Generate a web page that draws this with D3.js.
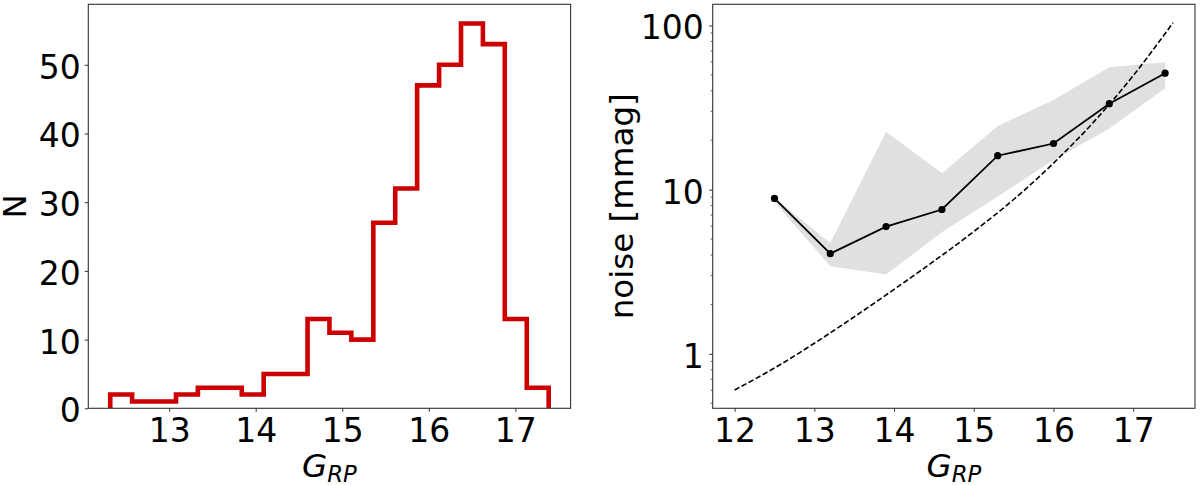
<!DOCTYPE html>
<html><head><meta charset="utf-8">
<script src="https://cdn.jsdelivr.net/npm/d3@7/dist/d3.min.js"></script>
<style>
body{margin:0;background:#fff}
svg{display:block;background:#fff}
text{font-family:"DejaVu Sans",sans-serif;fill:#000}
</style>
</head><body>
<svg id="chart" width="1200" height="485"></svg>
<script>
// ---------- data ----------
const histEdges = [12.319, 12.572, 12.826, 13.079, 13.332, 13.586, 13.839, 14.092, 14.345, 14.599,
                   14.852, 15.105, 15.359, 15.612, 15.865, 16.119, 16.372, 16.625, 16.878, 17.132, 17.385];
const histCounts = [2, 1, 1, 2, 3, 3, 2, 5, 5, 13, 11, 10, 27, 32, 47, 50, 56, 53, 13, 3];
const histXTicks = [13, 14, 15, 16, 17];
const histYTicks = [0, 10, 20, 30, 40, 50];

const noiseMag    = [12.5, 13.2, 13.9, 14.6, 15.3, 16.0, 16.7, 17.4];
const noiseMedian = [8.84, 4.08, 5.96, 7.57, 16.1, 19.1, 33.4, 51.2];
const noiseLow    = [8.4, 3.42, 3.04, 5.5, 9.1, 15.1, 23.6, 41.5];
const noiseHigh   = [8.9, 4.73, 22.5, 12.6, 24.4, 35.2, 55.7, 59.8];

const modelMag   = [12.0, 12.5, 13.0, 13.5, 14.0, 14.5, 15.0, 15.5, 16.0, 16.5, 17.0, 17.5];
const modelNoise = [0.603, 0.82, 1.16, 1.68, 2.47, 3.67, 5.56, 8.71, 14.5, 25.7, 49.5, 104];

const noiseXTicks = [12, 13, 14, 15, 16, 17];
const noiseYTicks = [1, 10, 100];

// ---------- layout ----------
const svg = d3.select("#chart");
const yTop = 4.3, yBot = 408.3;
const L = {x0: 88.3, x1: 570.6};
const R = {x0: 712.7, x1: 1195};
const FS = 33;      // tick label size
const LFS = 32.5;   // axis label size
const spineColor = "#333";

function pad(lo, hi, f) { const d = (hi - lo) * f; return [lo - d, hi + d]; }

// ---------- left panel: histogram ----------
const hx = d3.scaleLinear().domain(pad(histEdges[0], histEdges[histEdges.length - 1], 0.05)).range([L.x0, L.x1]);
const hy = d3.scaleLinear().domain([0, d3.max(histCounts) * 1.05]).range([yBot, yTop]);

svg.append("clipPath").attr("id", "clipL").append("rect")
  .attr("x", L.x0).attr("y", yTop).attr("width", L.x1 - L.x0).attr("height", yBot - yTop);

const stepPts = [[histEdges[0], 0]];
histCounts.forEach((c, i) => { stepPts.push([histEdges[i], c]); stepPts.push([histEdges[i + 1], c]); });
stepPts.push([histEdges[histEdges.length - 1], 0]);

svg.append("path")
  .attr("clip-path", "url(#clipL)")
  .attr("d", d3.line().x(d => hx(d[0])).y(d => hy(d[1]))(stepPts))
  .attr("fill", "none").attr("stroke", "#cc0000").attr("stroke-width", 4.6)
  .attr("stroke-linejoin", "miter");

function frame(x0, x1) {
  svg.append("rect").attr("x", x0).attr("y", yTop).attr("width", x1 - x0).attr("height", yBot - yTop)
    .attr("fill", "none").attr("stroke", spineColor).attr("stroke-width", 1.1);
}
frame(L.x0, L.x1);

function xAxis(scale, ticks, fmt) {
  const g = svg.append("g").attr("transform", `translate(0,${yBot})`)
    .call(d3.axisBottom(scale).tickValues(ticks).tickSize(3.5).tickPadding(3).tickFormat(fmt));
  g.select(".domain").remove();
  g.selectAll(".tick line").attr("stroke", spineColor).attr("stroke-width", 1);
  g.selectAll(".tick text").attr("font-size", FS).attr("font-family", "DejaVu Sans")
    .attr("dy", null).attr("y", 34);
}
function yAxis(x0, scale, ticks, fmt, gap) {
  const g = svg.append("g").attr("transform", `translate(${x0},0)`)
    .call(d3.axisLeft(scale).tickValues(ticks).tickSize(3.5).tickPadding(3).tickFormat(fmt));
  g.select(".domain").remove();
  g.selectAll(".tick line").attr("stroke", spineColor).attr("stroke-width", 1);
  g.selectAll(".tick text").attr("font-size", FS).attr("font-family", "DejaVu Sans")
    .attr("x", -gap).attr("dy", null).attr("y", 13.5);
  return g;
}
xAxis(hx, histXTicks, d3.format("d"));
yAxis(L.x0, hy, histYTicks, d3.format("d"), 7.5);

function grpLabel(cx) {
  const t = svg.append("text").attr("x", cx).attr("y", 477).attr("text-anchor", "middle")
    .attr("font-size", LFS).attr("font-style", "italic");
  t.append("tspan").text("G");
  t.append("tspan").attr("font-size", LFS * 0.7).attr("dy", 5).text("RP");
}
grpLabel((L.x0 + L.x1) / 2);

svg.append("text").attr("transform", `translate(25.5,${(yTop + yBot) / 2}) rotate(-90)`)
  .attr("text-anchor", "middle").attr("font-size", LFS).text("N");

// ---------- right panel: noise ----------
const nx = d3.scaleLinear().domain(pad(modelMag[0], modelMag[modelMag.length - 1], 0.05)).range([R.x0, R.x1]);
const allVals = modelNoise.concat(noiseLow, noiseHigh, noiseMedian);
const lmin = Math.log10(d3.min(allVals)), lmax = Math.log10(d3.max(allVals));
const lpad = pad(lmin, lmax, 0.05);
const ny = d3.scaleLog().domain([Math.pow(10, lpad[0]), Math.pow(10, lpad[1])]).range([yBot, yTop]);

svg.append("clipPath").attr("id", "clipR").append("rect")
  .attr("x", R.x0).attr("y", yTop).attr("width", R.x1 - R.x0).attr("height", yBot - yTop);
const gR = svg.append("g").attr("clip-path", "url(#clipR)");

const bandData = noiseMag.map((m, i) => ({m, lo: noiseLow[i], hi: noiseHigh[i]}));
gR.append("path")
  .attr("d", d3.area().x(d => nx(d.m)).y0(d => ny(d.lo)).y1(d => ny(d.hi))(bandData))
  .attr("fill", "#e0e0e0").attr("stroke", "none");

const modelData = modelMag.map((m, i) => ({m, v: modelNoise[i]}));
gR.append("path")
  .attr("d", d3.line().x(d => nx(d.m)).y(d => ny(d.v)).curve(d3.curveMonotoneX)(modelData))
  .attr("fill", "none").attr("stroke", "#000").attr("stroke-width", 1.6)
  .attr("stroke-dasharray", "5.5,2.5");

const medData = noiseMag.map((m, i) => ({m, v: noiseMedian[i]}));
gR.append("path")
  .attr("d", d3.line().x(d => nx(d.m)).y(d => ny(d.v))(medData))
  .attr("fill", "none").attr("stroke", "#000").attr("stroke-width", 1.8);
gR.selectAll("circle.pt").data(medData).enter().append("circle").attr("class", "pt")
  .attr("cx", d => nx(d.m)).attr("cy", d => ny(d.v)).attr("r", 3.6).attr("fill", "#000");

frame(R.x0, R.x1);
xAxis(nx, noiseXTicks, d3.format("d"));
yAxis(R.x0, ny, noiseYTicks, d3.format("d"), 9);

// minor log ticks
const [dlo, dhi] = ny.domain();
const minors = [];
for (let e = -1; e <= 2; e++) for (let k = 2; k <= 9; k++) {
  const v = k * Math.pow(10, e);
  if (v >= dlo && v <= dhi) minors.push(v);
}
svg.append("g").selectAll("line").data(minors).enter().append("line")
  .attr("x1", R.x0 - 2).attr("x2", R.x0).attr("y1", d => ny(d)).attr("y2", d => ny(d))
  .attr("stroke", spineColor).attr("stroke-width", 0.8);

grpLabel((R.x0 + R.x1) / 2);
svg.append("text").attr("transform", `translate(633,${(yTop + yBot) / 2}) rotate(-90)`)
  .attr("text-anchor", "middle").attr("font-size", LFS).text("noise [mmag]");
</script>
</body></html>
